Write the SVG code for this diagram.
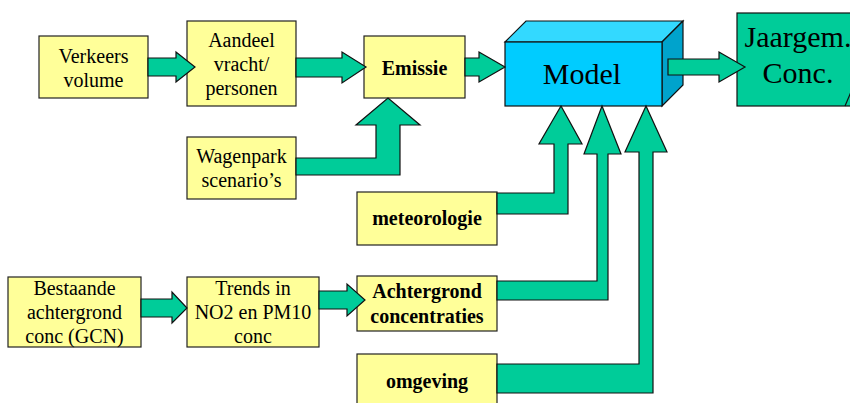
<svg xmlns="http://www.w3.org/2000/svg" width="850" height="403" viewBox="0 0 850 403">
<style>
.box{fill:#FFFF99;stroke:#222;stroke-width:1.2}
.arr{fill:#00CC99;stroke:#111;stroke-width:1.2;stroke-linejoin:miter}
text{font-family:"Liberation Serif","Times New Roman",serif;font-size:20px;fill:#000;text-anchor:middle}
.b{font-weight:bold}
.big{font-size:30px}
</style>
<rect width="850" height="403" fill="#fff"/>
<g id="node-verkeers"><rect class="box" x="39" y="36" width="109" height="62"/><text x="93.5" y="63">Verkeers</text><text x="93.5" y="87">volume</text></g>
<g id="node-aandeel"><rect class="box" x="187" y="21" width="109" height="85"/><text x="241.5" y="47">Aandeel</text><text x="241.5" y="71">vracht/</text><text x="241.5" y="95">personen</text></g>
<g id="node-wagenpark"><rect class="box" x="187" y="137" width="109" height="62"/><text x="241.5" y="163">Wagenpark</text><text x="241.5" y="187">scenario’s</text></g>
<g id="node-emissie"><rect class="box" x="364" y="36" width="101" height="62"/><text class="b" x="414.5" y="75">Emissie</text></g>
<g id="node-model">
<polygon points="505,42 526,21 683,21 662,42" fill="#33D9FF" stroke="#111" stroke-width="1.2"/>
<polygon points="662,42 683,21 683,85 662,106" fill="#00A3CC" stroke="#111" stroke-width="1.2"/>
<rect x="505" y="42" width="157" height="64" fill="#00CCFF" stroke="#111" stroke-width="1.2"/>
<text class="big" x="582" y="84">Model</text>
</g>
<g id="node-jaargem"><rect x="737" y="13" width="125" height="93" fill="#00CC99" stroke="#111" stroke-width="1.2"/><line x1="845" y1="106" x2="851" y2="92" stroke="#111" stroke-width="1.2"/><text class="big" x="798" y="47">Jaargem.</text><text class="big" x="798" y="83">Conc.</text></g>
<g id="node-meteorologie"><rect class="box" x="357" y="192" width="140" height="53"/><text class="b" x="427" y="225">meteorologie</text></g>
<g id="node-bestaande"><rect class="box" x="8" y="277" width="133" height="70"/><text x="74.5" y="295">Bestaande</text><text x="74.5" y="319">achtergrond</text><text x="74.5" y="343">conc (GCN)</text></g>
<g id="node-trends"><rect class="box" x="187" y="277" width="132" height="70"/><text x="253" y="295">Trends in</text><text x="253" y="319">NO2 en PM10</text><text x="253" y="343">conc</text></g>
<g id="node-achtergrond"><rect class="box" x="357" y="276" width="140" height="55"/><text class="b" x="427" y="298">Achtergrond</text><text class="b" x="427" y="323">concentraties</text></g>
<g id="node-omgeving"><rect class="box" x="357" y="354" width="140" height="60"/><text class="b" x="427" y="388">omgeving</text></g>
<g id="connectors">
<polygon class="arr" points="148,58 176,58 176,52 195,67 176,82 176,76 148,76"/>
<polygon class="arr" points="296,58 342,58 342,52 366,67 342,83 342,77 296,77"/>
<polygon class="arr" points="465,58 479,58 479,52 505,67 479,82 479,76 465,76"/>
<polygon class="arr" points="668,59 719,59 719,52 745,67 719,82 719,75 668,75"/>
<polygon class="arr" points="296,158 376,158 376,125 356,125 388,98 420,125 400,125 400,175 296,175"/>
<polygon class="arr" points="497,193 554,193 554,144 539,144 561,106 582,144 568,144 568,214 497,214"/>
<polygon class="arr" points="497,281 597,281 597,154 584,154 602,106 621,154 608,154 608,300 497,300"/>
<polygon class="arr" points="497,364 639,364 639,152 625,152 646,106 667,152 653,152 653,393 497,393"/>
<polygon class="arr" points="141,299 172,299 172,292 187,308 172,323 172,317 141,317"/>
<polygon class="arr" points="319,291 347,291 347,284 365,300 347,316 347,309 319,309"/>
</g>
</svg>
